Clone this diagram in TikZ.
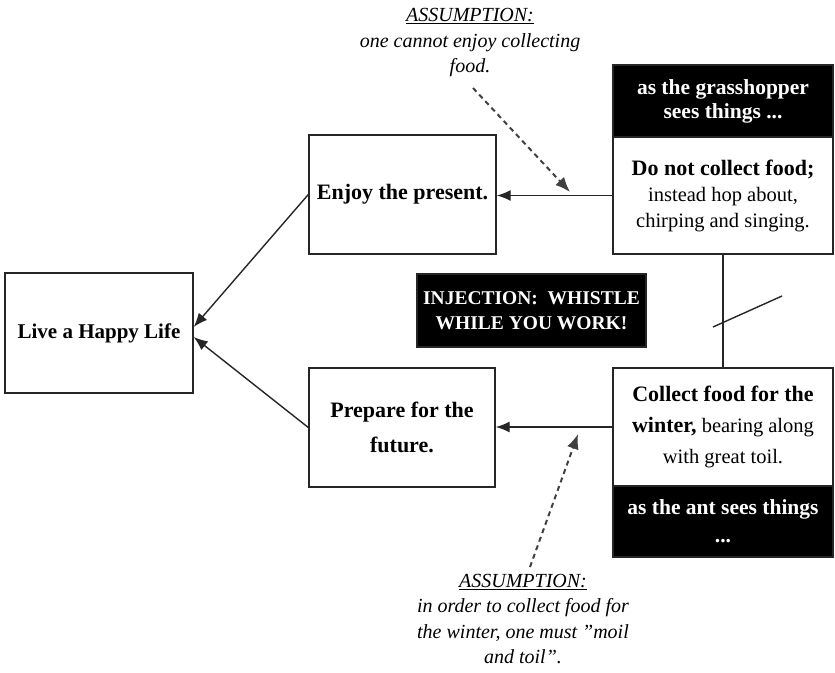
\documentclass[tikz,border=0pt]{standalone}
\usepackage{fontspec}
\setmainfont{Liberation Serif}
\usetikzlibrary{arrows.meta}
\definecolor{ink}{gray}{0.15}
\definecolor{dashink}{gray}{0.25}
\begin{document}
\begin{tikzpicture}[x=1pt,y=-1pt,
  box/.style={draw=ink, line width=1.4pt, fill=white, inner sep=0pt, align=center},
  blackbox/.style={draw=ink, line width=1.4pt, fill=black, text=white, inner sep=0pt, align=center},
  boldtxt/.style={font=\fontsize{22}{26}\selectfont\bfseries},
  note/.style={inner sep=0pt, align=center, font=\fontsize{20}{25.5}\selectfont\itshape},
  link/.style={draw=ink, line width=1.4pt, -{Latex[length=14pt,width=11pt]}},
  hint/.style={draw=dashink, line width=2pt, dash pattern=on 5pt off 4pt, -{Latex[length=15pt,width=12pt]}}
]
\useasboundingbox (0,0) rectangle (835,672);

% goal and the two requirements
\node[box, minimum width=188pt, minimum height=120pt,
      font=\fontsize{21}{26}\selectfont\bfseries] (live) at (99,333) {Live a Happy Life};
\node[box, boldtxt, minimum width=187pt, minimum height=119pt] (enjoy) at (402.5,194.5) {Enjoy the present.};
\node[box, minimum width=186pt, minimum height=119pt,
      font=\fontsize{22}{35}\selectfont\bfseries] (prepare) at (402,427.5) {Prepare for the\\future.};

% the grasshopper's prerequisite
\node[blackbox, minimum width=220pt, minimum height=72pt,
      font=\fontsize{21.5}{24}\selectfont\bfseries] (ghhead) at (723,101) {as the grasshopper\\sees things ...};
\node[box, minimum width=220pt, minimum height=117pt,
      font=\fontsize{20.5}{26}\selectfont] (gh) at (723,195.5)
      {{\fontsize{22}{26}\selectfont\bfseries Do not collect food;}\\instead hop about,\\chirping and singing.};

% the ant's prerequisite
\node[box, minimum width=220pt, minimum height=118pt,
      font=\fontsize{20.5}{31}\selectfont] (ant) at (723,427)
      {{\fontsize{22}{31}\selectfont\bfseries Collect food for the}\\{\fontsize{22}{31}\selectfont\bfseries winter,} bearing along\\with great toil.};
\node[blackbox, minimum width=220pt, minimum height=71pt,
      font=\fontsize{21.5}{28}\selectfont\bfseries] (anthead) at (723,521.5) {as the ant sees things\\...};

% injection
\node[blackbox, minimum width=229pt, minimum height=73pt,
      font=\fontsize{19.5}{25}\selectfont\bfseries] (inject) at (531.5,310.5) {INJECTION:\ \ WHISTLE\\WHILE YOU WORK!};

% assumptions
\node[note] (asmA) at (470,43) {\underline{ASSUMPTION:}\\one cannot enjoy collecting\\food.};
\node[note] (asmB) at (523,619) {\underline{ASSUMPTION:}\\in order to collect food for\\the winter, one must \textquotedblright moil\\and toil\textquotedblright.};
\coordinate (asmAtail) at (473,88);
\coordinate (asmAtip) at (570,192);
\coordinate (asmBtail) at (530,567);
\coordinate (asmBtip) at (578,434);

% conflict cross-mark
\coordinate (crossA) at (713,327);
\coordinate (crossB) at (782,296);

% connectors
\draw[link] (enjoy.west) -- ([yshift=6pt]live.east);
\draw[link] (prepare.west) -- ([yshift=-4pt]live.east);
\draw[link] (gh.west) -- (gh.west -| enjoy.east);
\draw[link] (ant.west) -- (ant.west -| prepare.east);
\draw[draw=ink, line width=1.4pt] (gh.south) -- (ant.north);
\draw[draw=ink, line width=1.4pt] (crossA) -- (crossB);
\draw[hint] (asmAtail) -- (asmAtip);
\draw[hint] (asmBtail) -- (asmBtip);
\end{tikzpicture}
\end{document}
